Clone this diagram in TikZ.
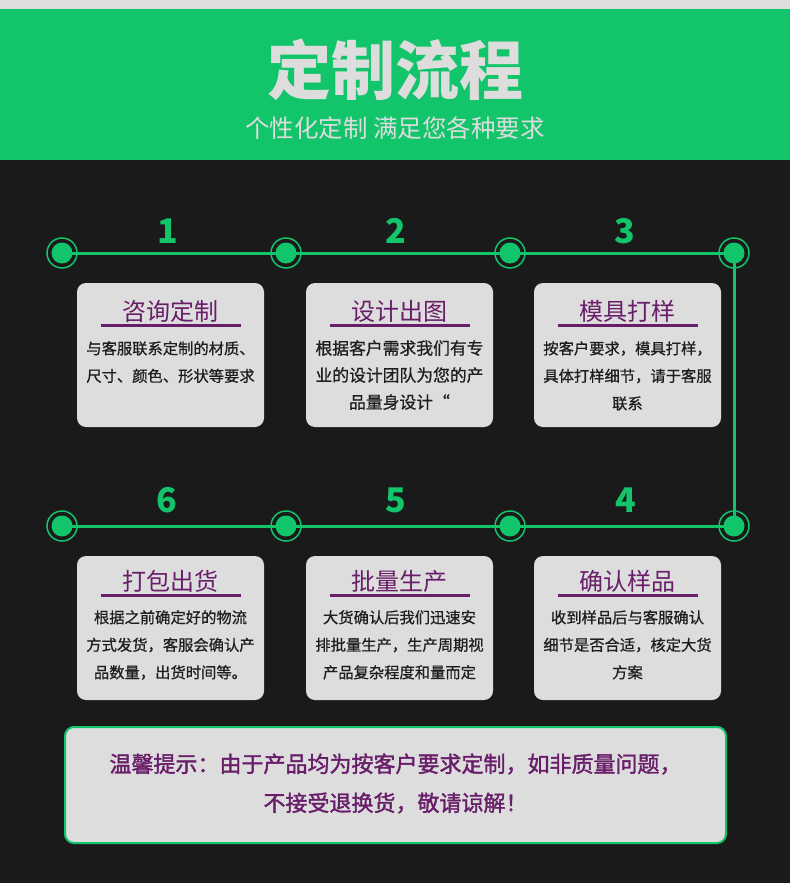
\documentclass[tikz,border=0pt]{standalone}
\usepackage{fontspec}
\setmainfont{Noto Sans CJK SC}
\newfontfamily\medfont[FakeBold=0.8]{Noto Sans CJK SC}
\newfontfamily\notefont[FakeBold=1.6]{Noto Sans CJK SC}
\definecolor{grn}{RGB}{18,196,106}
\definecolor{bg}{RGB}{26,26,26}
\definecolor{lite}{RGB}{221,221,221}
\definecolor{purp}{RGB}{105,30,105}
\definecolor{ink}{RGB}{30,30,30}
\begin{document}
\begin{tikzpicture}[x=1pt,y=-1pt,
 dot/.style={circle,fill=grn,minimum size=21pt,inner sep=0pt},
 ringc/.style={draw=grn,line width=1.5pt},
 link/.style={draw=grn,line width=3pt},
 num/.style={text=grn,font=\fontsize{34}{34}\selectfont\bfseries},
 card/.style={fill=lite,rounded corners=9pt,minimum width=187pt,minimum height=144pt,inner sep=0pt},
 ctitle/.style={text=purp,font=\fontsize{24}{24}\selectfont,inner sep=0pt},
 cbody/.style={text=ink,font=\medfont\fontsize{15.3}{27.5}\selectfont,align=center,anchor=north,inner sep=0pt},
 uline/.style={draw=purp,line width=2.5pt}]
% background
\fill[bg] (0,0) rectangle (790,883);
\fill[lite] (0,0) rectangle (790,9);
\fill[grn] (0,9) rectangle (790,160);
\useasboundingbox (0,0) rectangle (790,883);
% header
\node[text=lite,font=\fontsize{64}{64}\selectfont\bfseries] (title) at (395,70) {定制流程};
\node[text=lite,font=\fontsize{24.5}{24.5}\selectfont] (sub) at (395,128) {个性化定制 满足您各种要求};
% timeline dots
\foreach \n/\x/\y in {1/62/253,2/286/253,3/510/253,4/734/253,5/734/526,6/510/526,7/286/526,8/62/526}{
  \node[dot] (c\n) at (\x,\y) {};
  \draw[ringc] (c\n.center) circle (15pt);
}
\draw[link] (c1.center) -- (c2.center) -- (c3.center) -- (c4.center) -- (c5.center) -- (c6.center) -- (c7.center) -- (c8.center);
% numbers
\node[num] (n1) at (168,231) {1};
\node[num] (n2) at (396,231) {2};
\node[num] (n3) at (625,231) {3};
\node[num] (n6) at (167,500) {6};
\node[num] (n5) at (396,500) {5};
\node[num] (n4) at (626,500) {4};
% cards
\foreach \n/\x/\y/\ty/\t in {1/170.5/355/311/咨询定制,2/399.5/355/311/设计出图,3/627.5/355/311/模具打样,6/170.5/628/581/打包出货,5/399.5/628/581/批量生产,4/627.5/628/581/确认样品}{
  \node[card] (b\n) at (\x,\y) {};
  \node[ctitle] (t\n) at (\x,\ty) {\t};
  \draw[uline] ([xshift=-70pt,yshift=-14.5pt]t\n.center) -- ([xshift=70pt,yshift=-14.5pt]t\n.center);
}
\node[cbody] (d1) at (170.5,341) {与客服联系定制的材质、\\尺寸、颜色、形状等要求};
\node[cbody,font=\medfont\fontsize{16.8}{27}\selectfont] (d2) at (399.5,340) {根据客户需求我们有专\\业的设计团队为您的产\\品量身设计“};
\node[cbody] (d3) at (627.5,341) {按客户要求，模具打样，\\具体打样细节，请于客服\\联系};
\node[cbody] (d6) at (170.5,610) {根据之前确定好的物流\\方式发货，客服会确认产\\品数量，出货时间等。};
\node[cbody] (d5) at (399.5,610) {大货确认后我们迅速安\\排批量生产，生产周期视\\产品复杂程度和量而定};
\node[cbody] (d4) at (627.5,610) {收到样品后与客服确认\\细节是否合适，核定大货\\方案};
% note
\node[fill=lite,draw=grn,line width=2pt,rounded corners=9pt,minimum width=661pt,minimum height=116pt] (note) at (395.5,785) {};
\node[text=purp,font=\notefont\fontsize{22}{39}\selectfont,align=center] (notet) at ([yshift=1.5pt]note.center) {温馨提示：由于产品均为按客户要求定制，如非质量问题，\\不接受退换货，敬请谅解！};
\end{tikzpicture}
\end{document}
